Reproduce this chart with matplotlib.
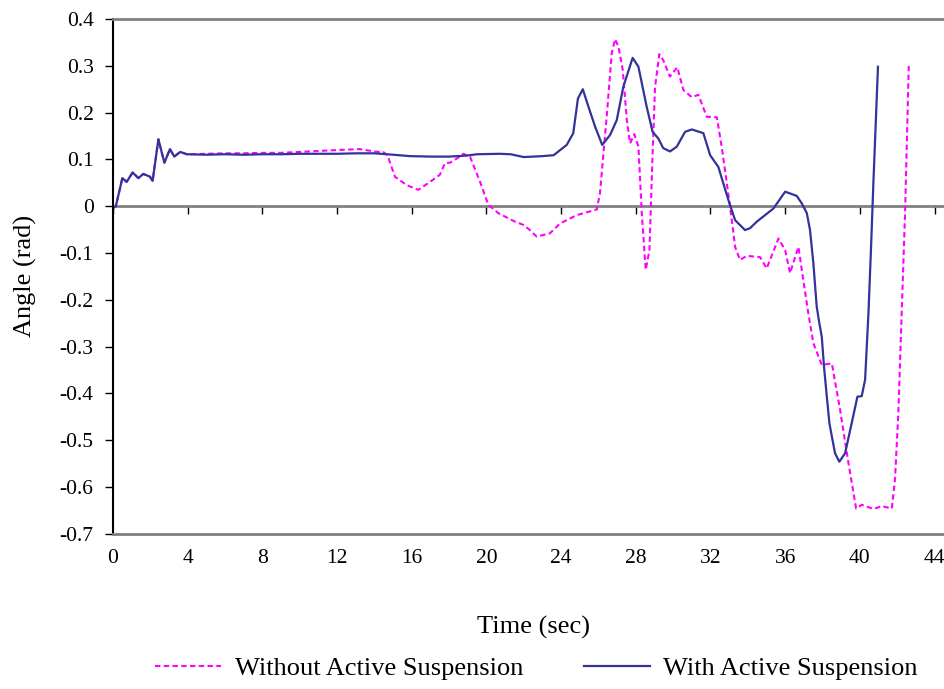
import matplotlib
matplotlib.use("Agg")
import matplotlib.pyplot as plt

plt.rcParams["font.family"] = ["Liberation Serif", "DejaVu Serif"]
plt.rcParams["axes.unicode_minus"] = False

# Time (s) and roll angle (rad)
t_without = [0, 0.15, 0.5, 0.73, 1.05, 1.36, 1.62, 1.98, 2.12, 2.43, 2.75, 3.05,
             3.28, 3.6, 3.95, 5, 6, 7, 8, 9, 10, 11, 12, 13.2, 14, 14.5, 14.7,
             15.1, 15.73, 16.35, 16.98, 17.5, 17.78, 18.05, 18.5, 18.76, 19.12,
             19.66, 20.1, 20.64, 21.53, 21.98, 22.3, 22.69, 23.4, 23.94, 24.84,
             25.91, 26.08, 26.44, 26.71, 26.89, 27.07, 27.3, 27.52, 27.69, 27.92,
             28.14, 28.32, 28.53, 28.73, 28.9, 29.03, 29.26, 29.47, 29.83, 30.22,
             30.55, 31.0, 31.35, 31.8, 32.34, 32.6, 33.05, 33.32, 33.58, 33.94,
             34.66, 35.01, 35.64, 36.0, 36.26, 36.71, 36.97, 37.24, 37.51, 37.96,
             38.5, 38.94, 39.39, 39.8, 40.1, 40.73, 41.17, 41.71, 41.88, 42.06,
             42.24, 42.42, 42.62]
angle_without = [-0.004, 0.0, 0.06, 0.052, 0.072, 0.06, 0.069, 0.063, 0.054, 0.143,
                 0.093, 0.122, 0.106, 0.116, 0.111, 0.112, 0.113, 0.113, 0.114,
                 0.114, 0.116, 0.118, 0.12, 0.122, 0.117, 0.115, 0.109, 0.063,
                 0.045, 0.035, 0.052, 0.067, 0.092, 0.093, 0.104, 0.112, 0.106,
                 0.052, 0.003, -0.015, -0.033, -0.04, -0.05, -0.065, -0.058,
                 -0.037, -0.019, -0.007, 0.028, 0.191, 0.327, 0.357, 0.341, 0.291,
                 0.184, 0.134, 0.154, 0.127, -0.015, -0.136, -0.094, 0.113, 0.255,
                 0.325, 0.312, 0.277, 0.297, 0.248, 0.233, 0.238, 0.191, 0.19,
                 0.127, -0.001, -0.087, -0.115, -0.106, -0.109, -0.133, -0.069,
                 -0.094, -0.143, -0.087, -0.158, -0.229, -0.293, -0.339, -0.336,
                 -0.435, -0.549, -0.646, -0.638, -0.647, -0.641, -0.646, -0.585,
                 -0.443, -0.229, -0.015, 0.302]

t_with = [0, 0.15, 0.5, 0.73, 1.05, 1.36, 1.62, 1.98, 2.12, 2.43, 2.75, 3.05,
          3.28, 3.6, 3.95, 5, 6, 7, 8, 9, 10, 11, 12, 13, 14, 15, 15.9, 17, 18,
          18.9, 19.5, 20.7, 21.3, 22, 23, 23.6, 24.3, 24.65, 24.9, 25.16, 25.46,
          25.82, 26.2, 26.62, 26.98, 27.33, 27.83, 28.14, 28.58, 28.9, 29.2,
          29.47, 29.83, 30.19, 30.64, 31.0, 31.62, 31.98, 32.42, 32.96, 33.32,
          33.85, 34.12, 34.48, 35.37, 36.0, 36.62, 36.89, 37.16, 37.33, 37.51,
          37.69, 37.83, 37.96, 38.08, 38.23, 38.37, 38.5, 38.67, 38.9, 39.21,
          39.56, 39.87, 40.1, 40.28, 40.37, 40.46, 40.6, 40.73, 40.97]
angle_with = [-0.004, 0.0, 0.06, 0.052, 0.072, 0.06, 0.069, 0.063, 0.054, 0.143,
              0.093, 0.122, 0.106, 0.116, 0.111, 0.110, 0.111, 0.110, 0.111,
              0.111, 0.112, 0.112, 0.112, 0.113, 0.113, 0.110, 0.107, 0.106,
              0.106, 0.108, 0.111, 0.112, 0.111, 0.105, 0.107, 0.109, 0.131,
              0.156, 0.23, 0.25, 0.213, 0.17, 0.131, 0.152, 0.184, 0.255, 0.317,
              0.298, 0.213, 0.159, 0.145, 0.124, 0.117, 0.127, 0.159, 0.164,
              0.156, 0.109, 0.084, 0.013, -0.03, -0.051, -0.047, -0.033, -0.005,
              0.031, 0.022, 0.006, -0.015, -0.051, -0.122, -0.215, -0.25,
              -0.279, -0.343, -0.407, -0.464, -0.492, -0.528, -0.546, -0.528,
              -0.464, -0.407, -0.406, -0.371, -0.3, -0.229, -0.087, 0.056, 0.298]

x_ticks = list(range(0, 45, 4))
y_ticks = [0.4, 0.3, 0.2, 0.1, 0, -0.1, -0.2, -0.3, -0.4, -0.5, -0.6, -0.7]

fig = plt.figure(figsize=(9.45, 6.89), dpi=100)
ax = fig.add_axes([0.1196, 0.2253, 0.8804, 0.7471])

ax.plot(t_without, angle_without, color="#FF00FF", lw=1.5, dashes=(2.6, 1.6),
        label="Without Active Suspension")
ax.plot(t_with, angle_with, color="#333399", lw=1.6,
        label="With Active Suspension")

ax.set_xlim(0, 44.56)
ax.set_ylim(-0.7, 0.4)

# frame: black left axis, grey top / bottom borders
for side in ["top", "bottom"]:
    ax.spines[side].set_color("#808080")
    ax.spines[side].set_linewidth(2)
ax.spines["right"].set_visible(False)
ax.spines["left"].set_color("black")
ax.spines["left"].set_linewidth(1.5)

ax.set_yticks(y_ticks)
ax.set_yticklabels([f"{v:g}" for v in y_ticks])
ax.tick_params(axis="y", direction="out", length=6, width=1, labelsize=15.5, pad=8)

ax.set_xticks(x_ticks)
ax.set_xticklabels([str(v) for v in x_ticks])
ax.tick_params(axis="x", length=0, labelsize=15.5, pad=11)

# zero line carrying the x tick marks
zero_ax = ax.secondary_xaxis(0.7 / 1.1)
zero_ax.set_alignment("bottom")
zero_ax.set_xticks(x_ticks)
zero_ax.tick_params(axis="x", direction="out", length=6, width=1, color="black",
                    labelbottom=False, labeltop=False)
for sp in zero_ax.spines.values():
    sp.set_color("#808080")
    sp.set_linewidth(2)

ax.set_ylabel("Angle (rad)", fontsize=19, labelpad=16)
fig.text(0.565, 1 - 627 / 689, "Time (sec)", fontsize=19, ha="center", va="center")

fig.legend(loc="center", bbox_to_anchor=(0.5675, 1 - 668 / 689), ncol=2,
           frameon=False, fontsize=19, handlelength=2.5, handletextpad=0.5,
           columnspacing=2.3)

fig.savefig("out.png", dpi=100)
